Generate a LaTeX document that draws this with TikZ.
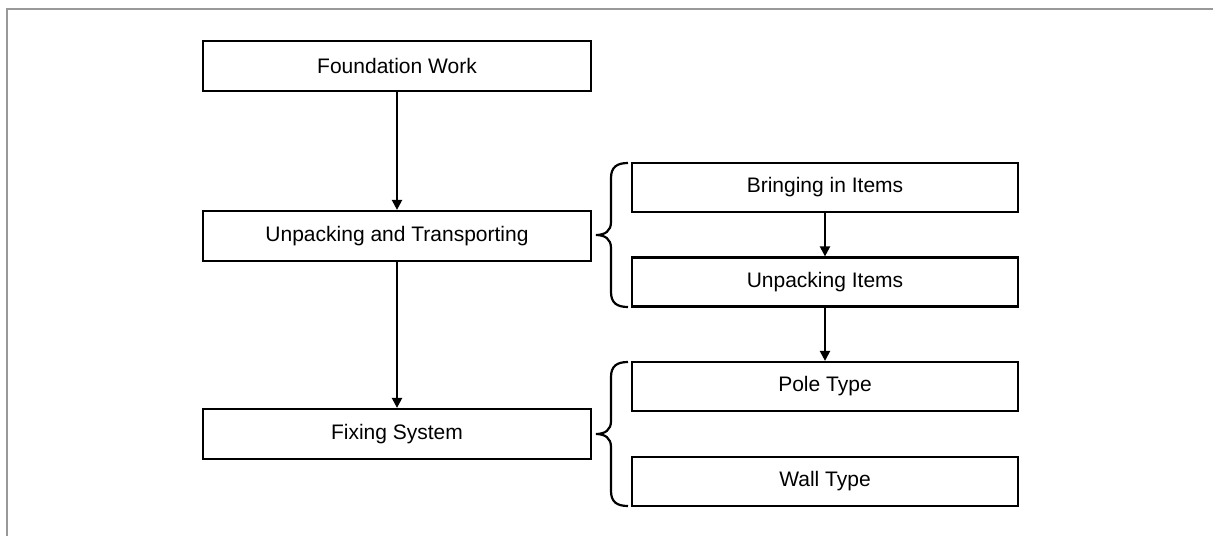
\documentclass[tikz,border=0pt]{standalone}
\usepackage{fontspec}
\setmainfont{Liberation Sans}
\usetikzlibrary{arrows.meta}
\definecolor{framegray}{HTML}{999999}
\begin{document}
\begin{tikzpicture}[x=1pt,y=-1pt,
  leftbox/.style={draw=black,line width=2.2pt,minimum width=388pt,minimum height=50pt,inner sep=0pt,font=\fontsize{21}{25}\selectfont},
  rightbox/.style={draw=black,line width=2.2pt,minimum width=386pt,minimum height=49pt,inner sep=0pt,font=\fontsize{21}{25}\selectfont},
  flow/.style={line width=2.2pt,-{Triangle[width=10pt,length=10pt]}},
  bracestyle/.style={line width=2.2pt}]
\useasboundingbox (0,0) rectangle (1213,536);
\draw[framegray,line width=2.2pt] (7,536) -- (7,9) -- (1213,9);

\node[leftbox] (fw) at (397,66) {Foundation Work};
\node[leftbox] (ut) at (397,236) {Unpacking and Transporting};
\node[leftbox] (fs) at (397,434) {Fixing System};
\node[rightbox] (bi) at (825,187.5) {Bringing in Items};
\node[rightbox] (ui) at (825,282) {Unpacking Items};
\node[rightbox] (pt) at (825,386.5) {Pole Type};
\node[rightbox] (wt) at (825,481.5) {Wall Type};

\draw[flow] (fw.south) -- (ut.north);
\draw[flow] (ut.south) -- (fs.north);
\draw[flow] (bi.south) -- (bi.south |- ui.north);
\draw[flow] (ui.south) -- (pt.north);

% braces
\draw[bracestyle] (628,163) .. controls (617,163) and (611,167) .. (611,178) -- (611,222)
  .. controls (611,231) and (605,235) .. (596,235)
  .. controls (605,235) and (611,239) .. (611,248) -- (611,292)
  .. controls (611,303) and (617,307) .. (628,307);
\draw[bracestyle] (628,362) .. controls (617,362) and (611,366) .. (611,377) -- (611,421)
  .. controls (611,430) and (605,434) .. (596,434)
  .. controls (605,434) and (611,438) .. (611,447) -- (611,491)
  .. controls (611,502) and (617,506) .. (628,506);
\end{tikzpicture}
\end{document}
